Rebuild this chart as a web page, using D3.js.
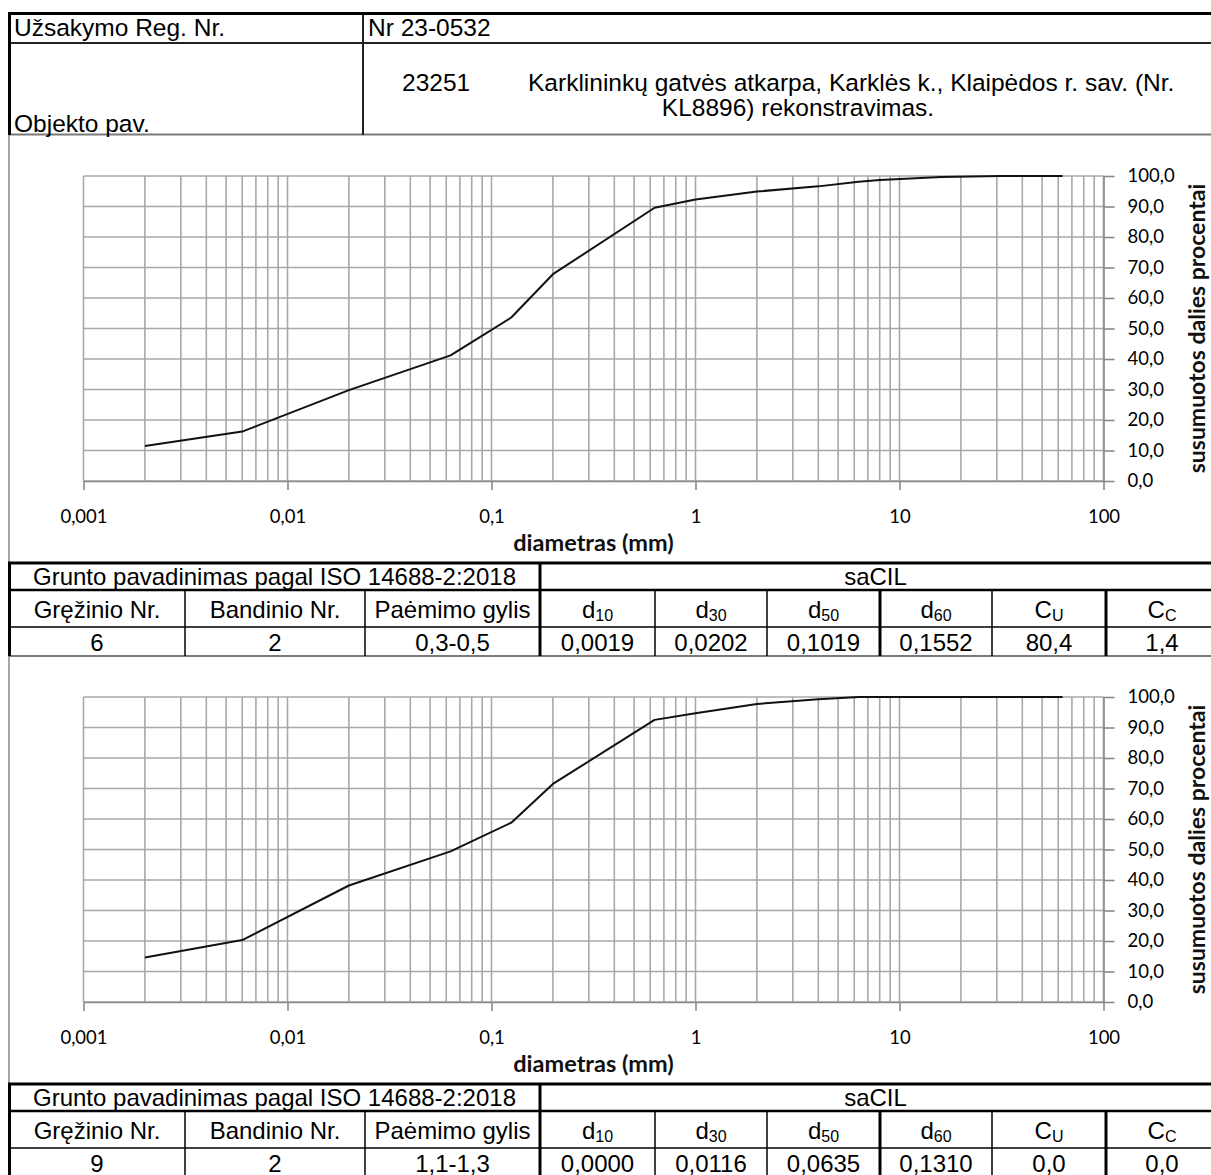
<!DOCTYPE html>
<html>
<head>
<meta charset="utf-8">
<script src="https://cdn.jsdelivr.net/npm/d3@7"></script>
<style>
  html, body { margin: 0; padding: 0; background: #fff; }
  svg { display: block; }
</style>
</head>
<body>
<svg id="chart" width="1211" height="1175"></svg>
<script>
// ---------------- DATA ----------------
const sieveSizes = [0.002, 0.006, 0.02, 0.063, 0.125, 0.2, 0.63, 1, 2, 4, 6.3, 8, 16, 31.5, 63];
const passing1   = [11.5, 16.2, 29.8, 41.2, 53.6, 67.8, 89.6, 92.3, 94.9, 96.6, 98.1, 98.7, 99.7, 100, 100];
const passing2   = [14.6, 20.3, 38.2, 49.4, 58.8, 71.5, 92.5, 94.7, 97.7, 99.3, 100, 100, 100, 100, 100];

const xTickValues = [0.001, 0.01, 0.1, 1, 10, 100];
const xTickLabels = ["0,001", "0,01", "0,1", "1", "10", "100"];
const yTickValues = [0, 10, 20, 30, 40, 50, 60, 70, 80, 90, 100];
const yTickLabels = ["0,0", "10,0", "20,0", "30,0", "40,0", "50,0", "60,0", "70,0", "80,0", "90,0", "100,0"];

const xAxisTitle = "diametras (mm)";
const yAxisTitle = "susumuotos dalies procentai";

const headerLabels = ["Užsakymo Reg. Nr.", "Objekto pav."];
const orderNo = "Nr 23-0532";
const objectCode = "23251";
const objectLine1 = "Karklininkų gatvės atkarpa, Karklės k., Klaipėdos r. sav. (Nr.";
const objectLine2 = "KL8896) rekonstravimas.";

const soilNameLabel = "Grunto pavadinimas pagal ISO 14688-2:2018";
const soilNames = ["saCIL", "saCIL"];
const columnHeads = [["Gręžinio Nr.", ""], ["Bandinio Nr.", ""], ["Paėmimo gylis", ""],
                     ["d", "10"], ["d", "30"], ["d", "50"], ["d", "60"], ["C", "U"], ["C", "C"]];
const sample1Values = ["6", "2", "0,3-0,5", "0,0019", "0,0202", "0,1019", "0,1552", "80,4", "1,4"];
const sample2Values = ["9", "2", "1,1-1,3", "0,0000", "0,0116", "0,0635", "0,1310", "0,0", "0,0"];

// ---------------- LAYOUT ----------------
const svg = d3.select("#chart");
const TABLE_FONT = "'Liberation Sans', Arial, sans-serif";
const CHART_FONT = "Lato, 'Open Sans', sans-serif";

const x = d3.scaleLog().domain([0.001, 100]).range([83.5, 1103.5]);
const y = d3.scaleLinear().domain([0, 100]).range([481, 176]);
const blockShift = 521;

function hline(g, x1, x2, yy, w, c) {
  g.append("line").attr("x1", x1).attr("x2", x2).attr("y1", yy).attr("y2", yy)
    .attr("stroke", c).attr("stroke-width", w);
}
function vline(g, xx, y1, y2, w, c) {
  g.append("line").attr("x1", xx).attr("x2", xx).attr("y1", y1).attr("y2", y2)
    .attr("stroke", c).attr("stroke-width", w);
}
function ttext(g, str, xx, yy, anchor, size) {
  return g.append("text").attr("x", xx).attr("y", yy)
    .attr("text-anchor", anchor || "start")
    .attr("dominant-baseline", "central")
    .attr("font-family", TABLE_FONT).attr("font-size", size || 24)
    .attr("fill", "#000").text(str);
}

// ---------------- HEADER TABLE ----------------
const head = svg.append("g");
hline(head, 8, 1211, 43, 2, "#222");
hline(head, 8, 1211, 134.5, 2, "#7a7a7a");
vline(head, 363, 13, 135, 2, "#222");
hline(head, 8, 1211, 13.5, 3, "#000");
vline(head, 9.5, 12, 135, 3, "#000");
ttext(head, headerLabels[0], 14, 27, "start", 24.5);
ttext(head, orderNo, 368, 27, "start", 24.5);
ttext(head, objectCode, 402, 82, "start", 24.5);
ttext(head, objectLine1, 528, 82, "start", 24.5);
ttext(head, objectLine2, 798, 107, "middle", 24.5);
ttext(head, headerLabels[1], 14, 123, "start", 24.5);

// ---------------- CHART BLOCKS ----------------
const colEdges = [9, 185, 365, 540, 655, 767, 880, 992, 1106, 1218];
const thickCols = [540, 880, 1106];
const samples = [passing1, passing2];
const sampleRows = [sample1Values, sample2Values];

samples.forEach((passing, bi) => {
  const g = svg.append("g").attr("transform", `translate(0,${bi * blockShift})`);

  // frame left border of chart area
  vline(g, 9, 135, 562, 1.5, "#8a8a8a");

  // grid: vertical log gridlines
  const grid = g.append("g");
  grid.selectAll("line.vx").data(x.ticks()).join("line")
    .attr("x1", d => x(d)).attr("x2", d => x(d))
    .attr("y1", y(100)).attr("y2", y(0))
    .attr("stroke", "#a8a8a8").attr("stroke-width", 1.6);
  // horizontal gridlines
  grid.selectAll("line.hy").data(yTickValues).join("line")
    .attr("x1", x(0.001)).attr("x2", x(100))
    .attr("y1", d => y(d)).attr("y2", d => y(d))
    .attr("stroke", "#a8a8a8").attr("stroke-width", 1.6);

  // bottom axis
  const xAxis = d3.axisBottom(x).tickValues(xTickValues)
    .tickFormat((d, i) => xTickLabels[i]).tickSize(9).tickSizeOuter(0).tickPadding(20);
  const gx = g.append("g").attr("transform", `translate(0,${y(0)})`).call(xAxis);
  gx.select(".domain").attr("stroke", "#8a8a8a").attr("stroke-width", 1.6);
  gx.selectAll(".tick line").attr("stroke", "#8a8a8a").attr("stroke-width", 1.6);
  gx.selectAll(".tick text").attr("font-family", CHART_FONT).attr("font-size", 18.5).attr("fill", "#000");

  // right axis
  const yAxis = d3.axisRight(y).tickValues(yTickValues)
    .tickFormat((d, i) => yTickLabels[i]).tickSize(11).tickSizeOuter(0).tickPadding(13);
  const gy = g.append("g").attr("transform", `translate(${x(100)},0)`).call(yAxis);
  gy.select(".domain").attr("stroke", "#8a8a8a").attr("stroke-width", 1.6);
  gy.selectAll(".tick line").attr("stroke", "#8a8a8a").attr("stroke-width", 1.6);
  gy.selectAll(".tick text").attr("font-family", CHART_FONT).attr("font-size", 18.5).attr("fill", "#000");

  // axis titles
  g.append("text").attr("x", (x(0.001) + x(100)) / 2).attr("y", 542)
    .attr("text-anchor", "middle").attr("dominant-baseline", "central")
    .attr("font-family", CHART_FONT).attr("font-weight", "bold").attr("font-size", 23.5)
    .attr("fill", "#111").text(xAxisTitle);
  g.append("text")
    .attr("transform", `translate(1205,${(y(0) + y(100)) / 2}) rotate(-90)`)
    .attr("text-anchor", "middle")
    .attr("font-family", CHART_FONT).attr("font-weight", "bold").attr("font-size", 23)
    .attr("fill", "#111").text(yAxisTitle);

  // curve
  const pts = sieveSizes.map((s, i) => ({ s, v: passing[i] }));
  g.append("path").datum(pts)
    .attr("fill", "none").attr("stroke", "#111").attr("stroke-width", 2)
    .attr("stroke-linejoin", "round")
    .attr("d", d3.line().x(d => x(d.s)).y(d => y(d.v)));

  // ---- results table ----
  const T = 562;
  const tg = g.append("g");
  hline(tg, 8, 1211, T + 28, 2.5, "#000");
  hline(tg, 8, 1211, T + 65, 1.5, "#000");
  hline(tg, 8, 1211, T + 94, 2, "#7a7a7a");
  colEdges.slice(1, -1).forEach(cx => {
    const thick = thickCols.includes(cx);
    vline(tg, cx, cx === 540 ? T : T + 28, T + 94, thick ? 3 : 1.5, "#000");
  });
  hline(tg, 8, 1211, T + 1, 3, "#000");
  vline(tg, 9.5, T, T + 94, 3, "#000");

  ttext(tg, soilNameLabel, (9 + 540) / 2, T + 14.5, "middle", 24);
  ttext(tg, soilNames[bi], (540 + 1211) / 2, T + 14.5, "middle", 24);

  columnHeads.forEach((h, ci) => {
    const cx = (colEdges[ci] + colEdges[ci + 1]) / 2;
    const t = tg.append("text").attr("x", cx).attr("y", T + 47)
      .attr("text-anchor", "middle").attr("dominant-baseline", "central")
      .attr("font-family", TABLE_FONT).attr("font-size", 24).attr("fill", "#000");
    t.append("tspan").text(h[0]);
    if (h[1]) t.append("tspan").attr("font-size", 16).attr("dy", 6).text(h[1]);
  });
  sampleRows[bi].forEach((v, ci) => {
    const cx = (colEdges[ci] + colEdges[ci + 1]) / 2;
    ttext(tg, v, cx, T + 80, "middle", 24);
  });
});
</script>
</body>
</html>
